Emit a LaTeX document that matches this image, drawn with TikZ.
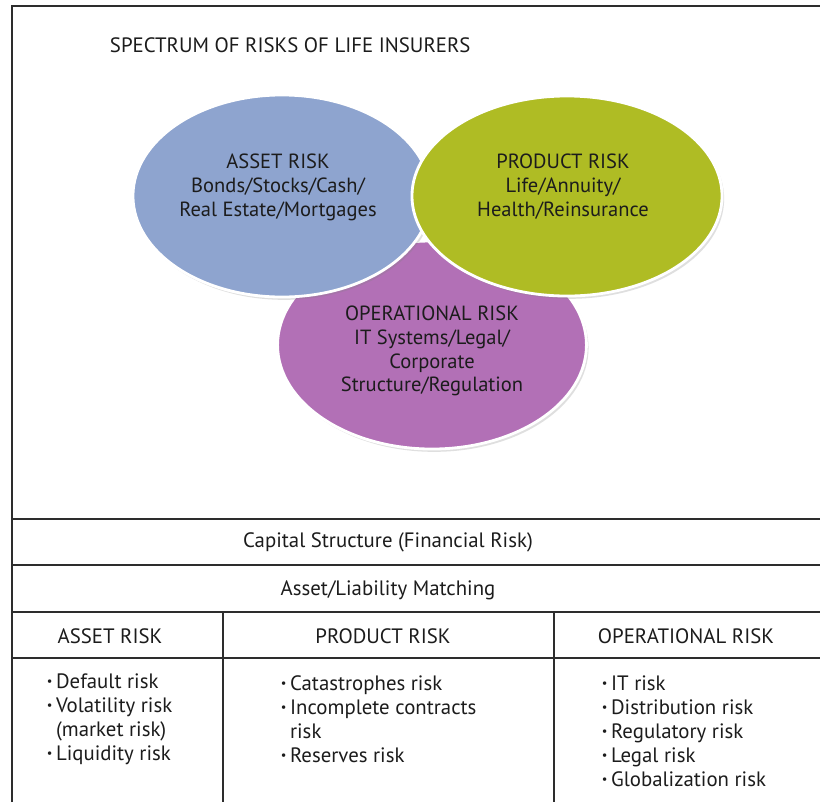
\documentclass[tikz,border=0pt]{standalone}
\usepackage{fontspec}
\setmainfont{PT Sans}
\usetikzlibrary{shapes.geometric,shadows}
\definecolor{assetblue}{RGB}{142,164,207}
\definecolor{productgreen}{RGB}{175,188,36}
\definecolor{operpurple}{RGB}{178,112,182}
\definecolor{framegray}{RGB}{45,45,45}
\definecolor{textgray}{RGB}{28,28,28}
\newcommand{\bul}{\raisebox{0.25ex}{\scalebox{0.6}{\textbullet}}\,}
\tikzset{
  riskblob/.style={ellipse,draw=white,line width=2pt,inner sep=0pt,
    drop shadow={opacity=0.25,shadow xshift=1.5pt,shadow yshift=-2pt}},
  blobtext/.style={align=center,font=\fontsize{14.6}{17}\selectfont,text=textgray},
  celltext/.style={font=\fontsize{14.8}{17}\selectfont,text=textgray},
  bulletlist/.style={celltext,align=left,anchor=west},
  gridline/.style={framegray,line width=1.4pt}
}

\begin{document}
\begin{tikzpicture}[x=0.025cm,y=-0.025cm]
	\useasboundingbox[fill=white] (0,0) rectangle (820,802);
	\node[celltext,anchor=west] at (105,45)(title){SPECTRUM OF RISKS OF LIFE INSURERS};
	
	\node[riskblob,fill=operpurple,minimum width=7.72cm,minimum height=5.2cm] at (432,345)(oper){};
	\node[riskblob,fill=assetblue,minimum width=7.45cm,minimum height=5.05cm] at (282,196)(asset){};
	\node[riskblob,fill=productgreen,minimum width=7.75cm,minimum height=5cm] at (567,196)(product){};
	\node[blobtext] at (278,187)(assettext){ASSET RISK\\Bonds/Stocks/Cash/\\Real Estate/Mortgages};
	\node[blobtext] at (563,187)(producttext){PRODUCT RISK\\Life/Annuity/\\Health/Reinsurance};
	\node[blobtext] at (432,351)(opertext){OPERATIONAL RISK\\IT Systems/Legal/\\Corporate\\Structure/Regulation};
	
	% table below the ellipses
	\draw[gridline] (12,802) -- (12,6) -- (822,6);
	\foreach \y in {519,565,612,658} \draw[gridline] (12,\y) -- (822,\y);
	\foreach \x in {223,554} \draw[gridline] (\x,612) -- (\x,802);
	
	\node[celltext] at (388,542)(capital){Capital Structure (Financial Risk)};
	\node[celltext] at (388,590)(matching){Asset/Liability Matching};
	\node[celltext] at (110,636)(assethead){ASSET RISK};
	\node[celltext] at (383,636)(producthead){PRODUCT RISK};
	\node[celltext] at (686,636)(operhead){OPERATIONAL RISK};
	
	\node[bulletlist] at (42,719)(assetlist){\bul Default risk\\\bul Volatility risk\\\hphantom{\bul}(market risk)\\\bul Liquidity risk};
	\node[bulletlist] at (276,719)(productlist){\bul Catastrophes risk\\\bul Incomplete contracts\\\hphantom{\bul}risk\\\bul Reserves risk};
	\node[bulletlist] at (597,731)(operlist){\bul IT risk\\\bul Distribution risk\\\bul Regulatory risk\\\bul Legal risk\\\bul Globalization risk};
\end{tikzpicture}
\end{document}
